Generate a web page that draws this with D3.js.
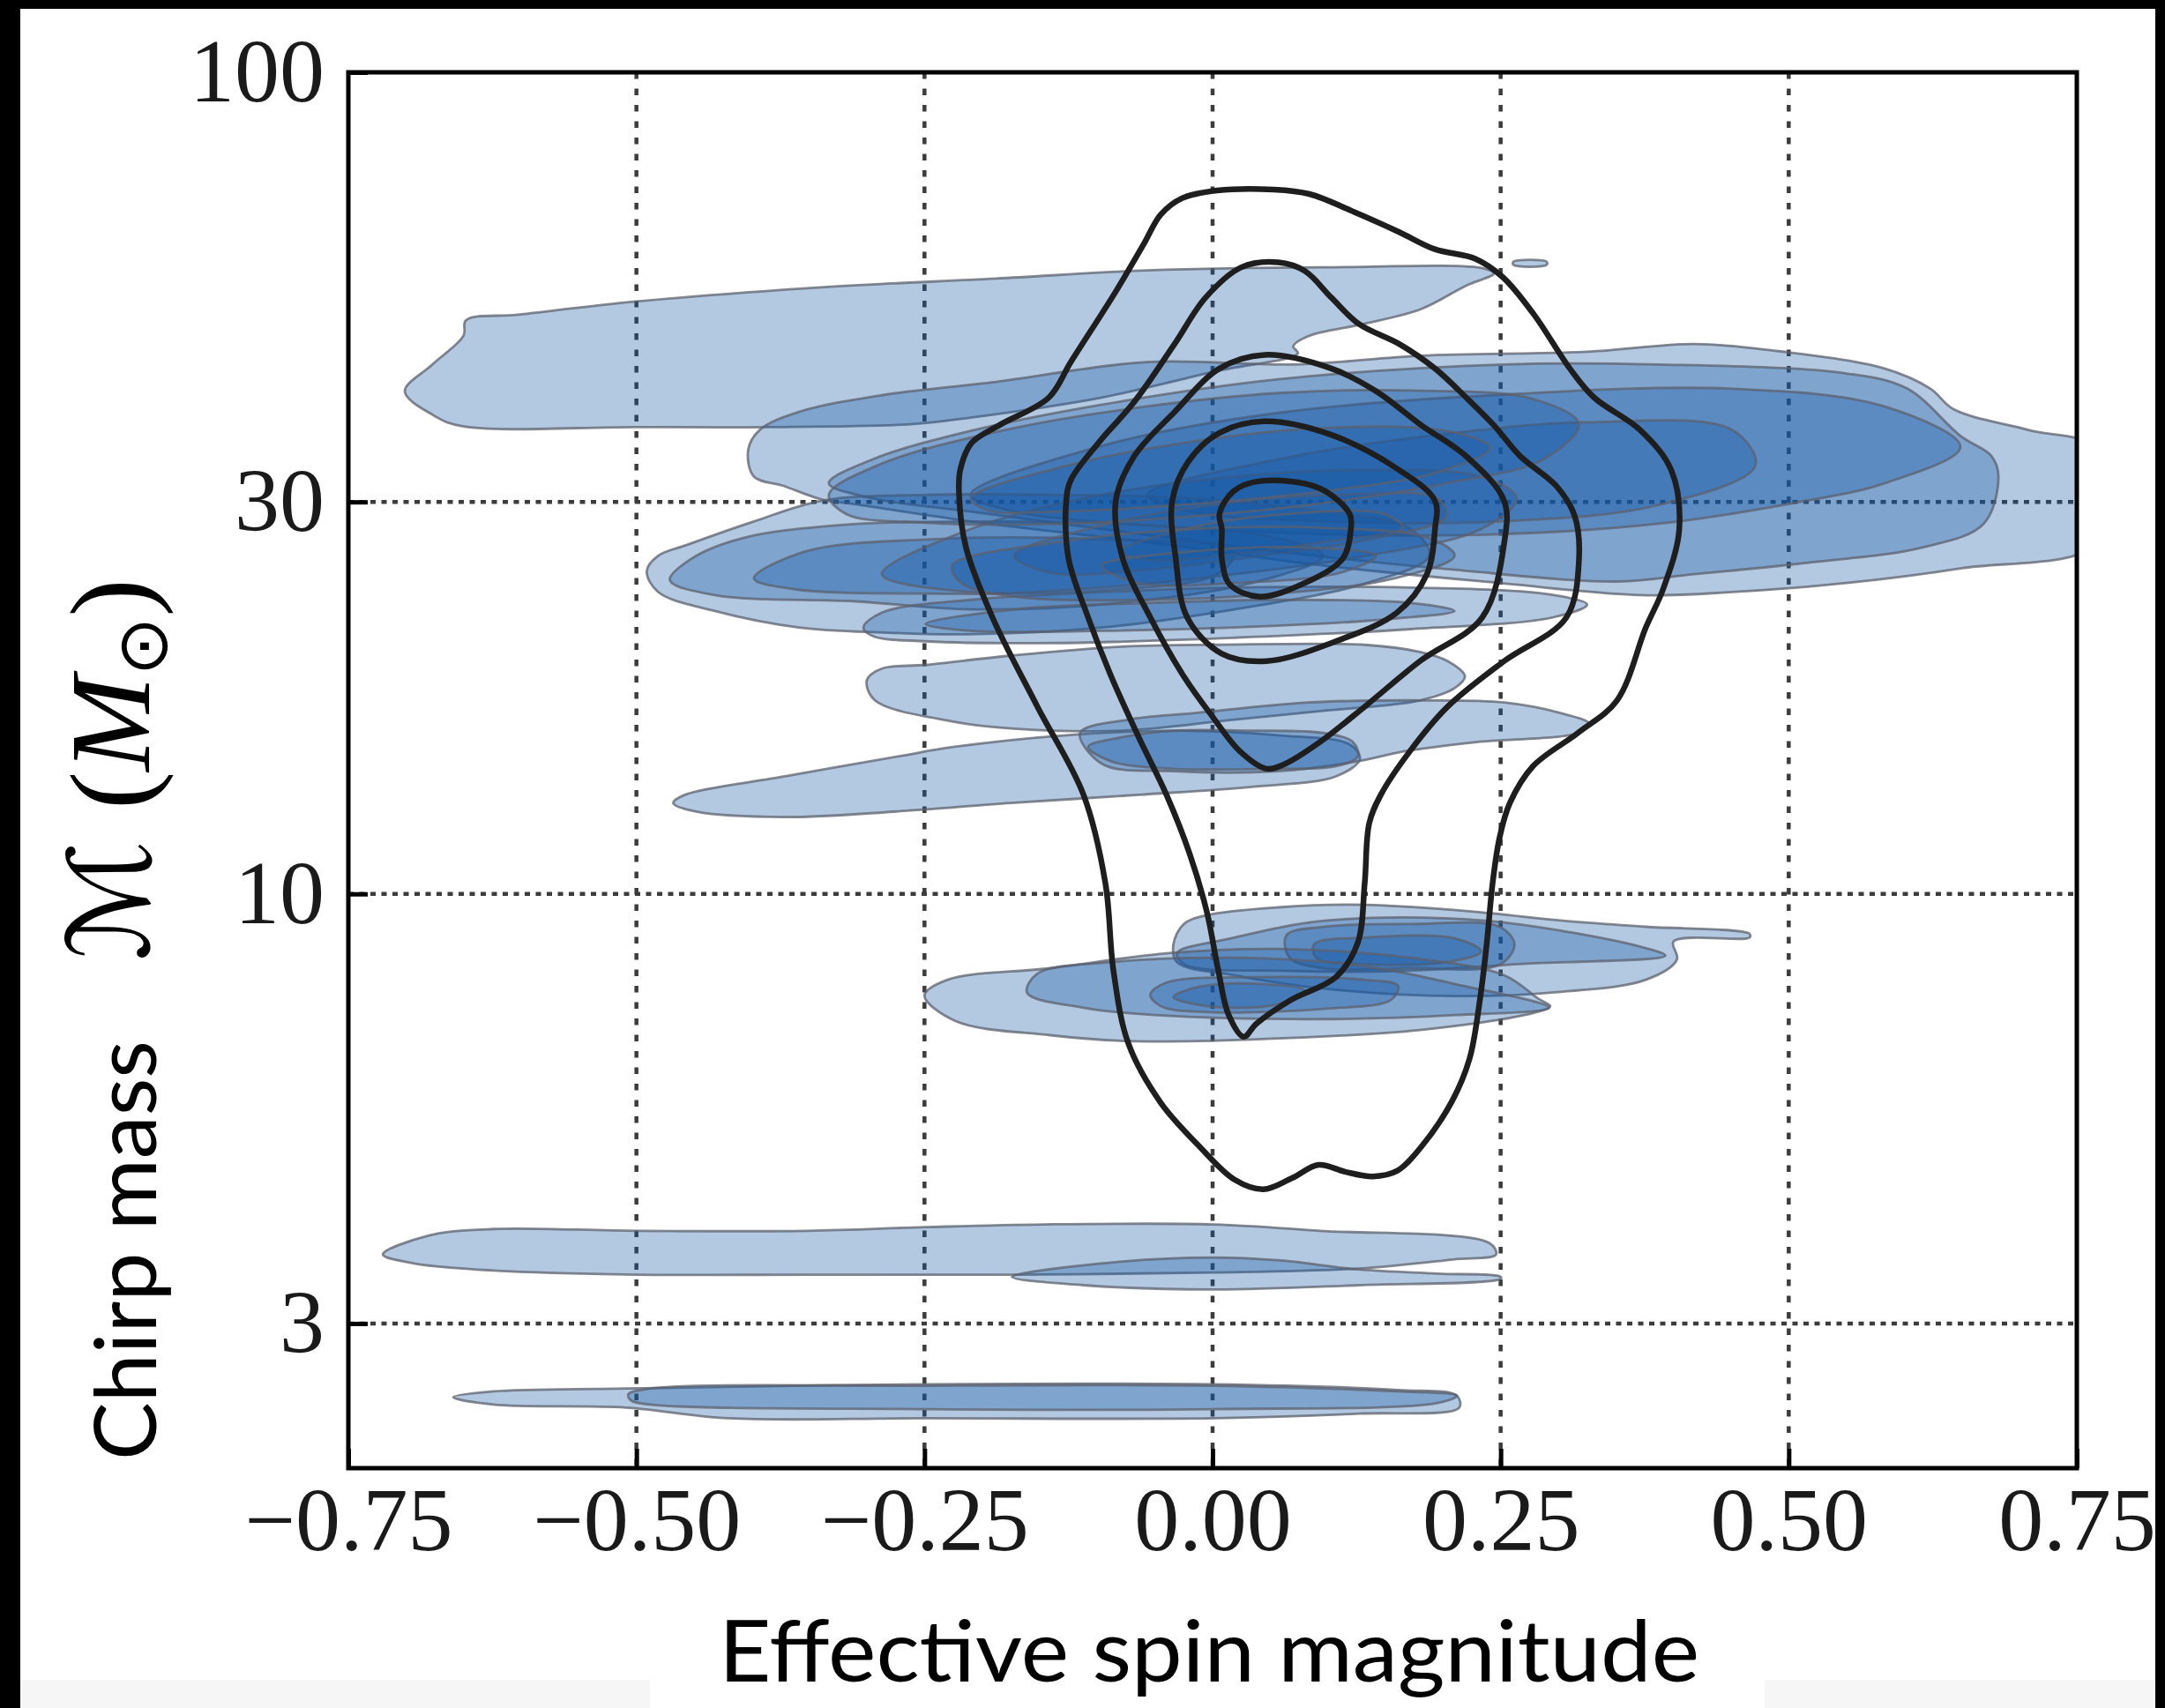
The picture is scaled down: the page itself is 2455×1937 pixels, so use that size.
<!DOCTYPE html>
<html>
<head>
<meta charset="utf-8">
<script src="https://cdn.jsdelivr.net/npm/d3@7"></script>
<style>
  html, body { margin: 0; padding: 0; background: #ffffff; }
  svg { display: block; }
</style>
</head>
<body>
<svg id="chart" width="2455" height="1937"></svg>
<script>
// ---- axes ----
const xDomain = [-0.75, 0.75];
const yDomain = [2, 100];
const xTicks = [-0.75, -0.5, -0.25, 0, 0.25, 0.5, 0.75];
const xTickLabels = ["\u22120.75", "\u22120.50", "\u22120.25", "0.00", "0.25", "0.50", "0.75"];
const yTicks = [3, 10, 30, 100];
const yTickLabels = ["3", "10", "30", "100"];
const xGrid = [-0.5, -0.25, 0, 0.25, 0.5];
const yGrid = [3, 10, 30];

// ---- per-event credible regions: [chi_eff, chirp mass], outermost level first ----
const evHeavyNeg = [
  [[-0.701,40.9],[-0.677,44.1],[-0.650,47.8],[-0.648,49.9],[-0.603,50.7],[-0.500,52.6],[-0.334,54.8],[-0.188,56.1],[-0.057,57.4],[0.096,57.9],[0.236,57.7],[0.244,56.9],[0.220,55.0],[0.181,51.5],[0.131,49.4],[0.084,47.8],[0.070,46.4],[0.074,45.5],[0.004,43.3],[-0.096,40.2],[-0.210,38.0],[-0.262,37.3],[-0.383,37.0],[-0.500,37.0],[-0.652,37.1],[-0.677,38.3]]
];
const evSliver = [
  [[0.261,58.8],[0.290,58.8],[0.290,58.3],[0.261,58.3]]
];
const evWide = [
  [[-0.403,34.7],[-0.393,36.7],[-0.359,38.6],[-0.285,40.5],[-0.188,42.0],[-0.057,44.4],[0.072,44.1],[0.181,45.2],[0.325,45.7],[0.418,46.7],[0.484,45.9],[0.583,43.6],[0.623,41.2],[0.643,38.9],[0.708,36.7],[0.769,34.7],[0.769,26.8],[0.649,24.9],[0.550,23.9],[0.451,23.3],[0.371,23.1],[0.249,23.9],[0.096,25.1],[-0.057,26.8],[-0.210,28.4],[-0.310,29.8],[-0.339,30.2],[-0.373,31.4],[-0.398,32.2]],
  [[-0.333,31.6],[-0.295,33.8],[-0.210,36.6],[-0.096,39.4],[0.057,42.3],[0.253,44.1],[0.385,44.1],[0.550,43.0],[0.603,41.2],[0.649,36.1],[0.676,34.1],[0.682,32.2],[0.669,28.2],[0.616,26.4],[0.517,25.3],[0.418,24.5],[0.351,24.0],[0.210,24.8],[0.057,26.1],[-0.096,27.8],[-0.210,29.2],[-0.295,30.3]],
  [[-0.210,30.6],[-0.096,35.1],[0.057,38.5],[0.249,40.5],[0.451,41.2],[0.583,39.2],[0.649,35.0],[0.583,31.6],[0.504,29.9],[0.385,28.2],[0.249,27.4],[0.096,27.4],[-0.057,28.1],[-0.172,29.2]],
  [[-0.057,30.6],[0.057,33.8],[0.210,36.4],[0.325,37.5],[0.451,36.7],[0.471,33.2],[0.385,29.7],[0.249,28.4],[0.096,28.4],[-0.019,29.2]]
];
const evLowerLobe = [
  [[-0.491,24.7],[-0.481,25.8],[-0.456,26.6],[-0.398,28.4],[-0.339,30.1],[-0.249,30.6],[-0.134,30.6],[-0.019,30.3],[0.096,29.2],[0.172,27.8],[0.188,25.8],[0.134,23.9],[0.019,22.2],[-0.096,21.1],[-0.213,20.7],[-0.285,20.8],[-0.359,21.1],[-0.432,22.1],[-0.481,23.3]],
  [[-0.471,24.1],[-0.452,25.6],[-0.408,27.1],[-0.325,28.1],[-0.210,28.4],[-0.057,28.1],[0.057,27.1],[0.096,25.8],[0.034,23.9],[-0.096,22.5],[-0.210,22.2],[-0.310,22.7],[-0.432,23.1]],
  [[-0.398,24.2],[-0.354,26.1],[-0.249,27.0],[-0.096,27.0],[0.019,26.1],[0.004,24.5],[-0.096,23.4],[-0.249,23.2],[-0.364,23.5]]
];
const evCore = [
  [[-0.287,24.5],[-0.210,27.8],[-0.096,30.6],[0.019,32.2],[0.134,32.8],[0.233,32.2],[0.264,30.3],[0.233,27.8],[0.134,25.8],[0.019,24.5],[-0.096,23.6],[-0.210,23.3]],
  [[-0.172,25.8],[-0.096,28.1],[0.004,29.8],[0.111,30.6],[0.195,30.3],[0.203,28.8],[0.142,27.1],[0.042,25.8],[-0.057,24.8],[-0.141,24.6]],
  [[-0.080,26.1],[-0.019,27.9],[0.065,29.0],[0.149,29.0],[0.165,27.9],[0.096,26.8],[0.019,25.9],[-0.057,25.5]]
];
const evUpper = [
  [[-0.333,30.6],[-0.287,33.4],[-0.172,36.9],[-0.057,39.2],[0.057,40.7],[0.172,41.0],[0.279,40.0],[0.318,37.3],[0.287,33.8],[0.203,31.6],[0.096,29.9],[-0.019,28.8],[-0.134,28.2],[-0.249,28.3],[-0.318,29.0]],
  [[-0.210,30.3],[-0.134,33.0],[-0.019,35.5],[0.096,36.9],[0.203,36.6],[0.241,34.9],[0.195,32.6],[0.096,30.9],[-0.019,29.8],[-0.134,29.2],[-0.195,29.3]]
];
const evBand21 = [
  [[-0.303,21.1],[-0.287,22.0],[-0.210,22.8],[-0.096,23.3],[0.019,23.6],[0.172,23.6],[0.287,23.2],[0.325,22.5],[0.295,21.7],[0.172,21.0],[0.019,20.5],[-0.134,20.2],[-0.249,20.3],[-0.295,20.6]],
  [[-0.249,21.3],[-0.172,22.2],[-0.057,22.6],[0.057,22.8],[0.172,22.6],[0.210,22.1],[0.134,21.5],[0.019,21.1],[-0.096,20.9],[-0.210,20.9]]
];
const evMid24 = [
  [[-0.226,25.1],[-0.134,26.8],[-0.019,27.8],[0.096,27.9],[0.188,27.1],[0.210,25.8],[0.157,24.2],[0.057,23.2],[-0.057,22.8],[-0.172,23.0],[-0.218,23.9]],
  [[-0.096,25.1],[-0.019,26.1],[0.080,26.4],[0.142,25.8],[0.111,24.6],[0.019,23.9],[-0.065,23.9]]
];
const evBand19 = [
  [[-0.300,18.2],[-0.287,18.8],[-0.249,19.0],[-0.175,19.5],[-0.078,20.0],[0.004,20.1],[0.132,20.1],[0.180,19.7],[0.204,19.2],[0.219,18.4],[0.210,17.8],[0.180,17.2],[0.096,16.7],[0.019,16.3],[-0.078,15.8],[-0.175,15.9],[-0.224,16.2],[-0.293,17.2]]
];
const evBand14 = [
  [[-0.468,12.9],[-0.458,13.2],[-0.371,13.9],[-0.273,14.7],[-0.224,15.1],[-0.127,15.6],[-0.027,15.8],[0.057,15.6],[0.119,15.2],[0.128,14.6],[0.107,13.9],[0.034,13.5],[-0.064,13.2],[-0.175,12.9],[-0.273,12.6],[-0.371,12.4],[-0.449,12.6]]
];
const evBand16 = [
  [[-0.115,15.7],[-0.073,16.3],[-0.015,16.6],[0.083,17.1],[0.180,17.2],[0.253,17.1],[0.302,16.6],[0.327,16.1],[0.317,15.7],[0.229,15.3],[0.165,14.9],[0.126,14.5],[0.057,14.1],[-0.034,14.1],[-0.096,14.4]],
  [[-0.108,15.1],[-0.080,15.5],[-0.034,15.8],[0.034,15.8],[0.096,15.7],[0.122,15.3],[0.126,14.7],[0.107,14.3],[0.050,14.2],[-0.034,14.2],[-0.088,14.5]]
];
const evLight9 = [
  [[-0.025,9.19],[-0.005,9.42],[0.057,9.63],[0.132,9.70],[0.229,9.51],[0.302,9.28],[0.376,9.12],[0.466,8.94],[0.466,8.85],[0.400,8.75],[0.403,8.32],[0.376,7.86],[0.302,7.60],[0.210,7.51],[0.096,7.67],[0.019,7.96],[-0.031,8.26],[-0.034,8.68]],
  [[-0.031,8.47],[0.016,8.83],[0.099,9.28],[0.235,9.28],[0.372,8.62],[0.393,8.41],[0.269,8.22],[0.167,8.06],[0.064,8.06],[-0.024,8.20]],
  [[0.064,8.90],[0.096,9.12],[0.172,9.19],[0.249,9.12],[0.262,8.68],[0.249,8.20],[0.172,8.12],[0.096,8.12],[0.067,8.36]],
  [[0.088,8.68],[0.134,8.85],[0.210,8.83],[0.233,8.51],[0.203,8.26],[0.126,8.22],[0.090,8.36]]
];
const evLight8 = [
  [[-0.250,7.52],[-0.230,7.86],[-0.141,8.12],[-0.038,8.47],[0.057,8.57],[0.172,8.36],[0.253,7.96],[0.283,7.45],[0.293,7.30],[0.278,7.16],[0.180,6.83],[0.034,6.65],[-0.073,6.62],[-0.141,6.73],[-0.223,7.00]],
  [[-0.161,7.58],[-0.152,8.00],[-0.088,8.26],[0.019,8.36],[0.134,8.16],[0.210,7.77],[0.292,7.27],[0.210,7.12],[0.096,7.04],[-0.050,7.12],[-0.112,7.27]],
  [[-0.054,7.54],[-0.040,7.80],[0.034,7.92],[0.132,7.86],[0.161,7.73],[0.155,7.43],[0.099,7.25],[-0.004,7.18],[-0.045,7.30]],
  [[-0.034,7.49],[-0.011,7.71],[0.042,7.77],[0.080,7.63],[0.057,7.34],[-0.004,7.30]]
];
const evBand35 = [
  [[-0.720,3.64],[-0.680,3.84],[-0.624,3.91],[-0.500,3.89],[-0.351,3.89],[-0.249,3.93],[-0.146,3.96],[0.001,3.96],[0.093,3.89],[0.240,3.76],[0.246,3.64],[0.209,3.59],[0.127,3.50],[0.001,3.46],[-0.174,3.44],[-0.351,3.44],[-0.500,3.44],[-0.624,3.48],[-0.693,3.55]]
];
const evBand33 = [
  [[-0.174,3.42],[-0.078,3.57],[0.001,3.61],[0.059,3.58],[0.127,3.49],[0.195,3.45],[0.250,3.42],[0.250,3.40],[0.127,3.34],[0.001,3.30],[-0.112,3.34]]
];
const evBand24 = [
  [[-0.659,2.44],[-0.624,2.48],[-0.509,2.50],[-0.249,2.53],[0.001,2.53],[0.161,2.49],[0.212,2.45],[0.214,2.37],[0.127,2.33],[0.001,2.30],[-0.249,2.30],[-0.420,2.30],[-0.509,2.37],[-0.624,2.39]],
  [[-0.507,2.46],[-0.488,2.50],[-0.249,2.52],[0.001,2.52],[0.161,2.48],[0.212,2.45],[0.195,2.40],[0.001,2.36],[-0.249,2.36],[-0.488,2.39],[-0.505,2.42]]
];
const events = [evHeavyNeg, evSliver, evWide, evLowerLobe, evCore, evUpper, evBand21, evMid24,
                evBand19, evBand14, evBand16, evLight9, evLight8, evBand35, evBand33, evBand24];

// ---- population density contours (outermost first) ----
const popLevel1 = [[0.053,72.0],[0.084,71.1],[0.123,67.6],[0.162,63.9],[0.193,60.9],[0.228,59.3],[0.252,56.3],[0.279,50.7],[0.310,43.6],[0.331,40.2],[0.371,36.7],[0.398,32.8],[0.405,27.8],[0.391,23.5],[0.376,21.1],[0.351,17.2],[0.317,15.7],[0.278,14.3],[0.258,12.9],[0.249,11.7],[0.243,10.3],[0.238,8.72],[0.232,7.43],[0.223,6.30],[0.208,5.60],[0.181,4.92],[0.160,4.60],[0.139,4.53],[0.115,4.59],[0.092,4.68],[0.069,4.51],[0.044,4.37],[0.019,4.49],[-0.011,4.92],[-0.045,5.57],[-0.073,6.57],[-0.086,8.06],[-0.093,10.3],[-0.112,13.2],[-0.152,16.9],[-0.191,21.7],[-0.214,26.4],[-0.220,30.6],[-0.219,32.8],[-0.209,35.4],[-0.185,37.2],[-0.142,40.2],[-0.123,44.4],[-0.084,54.1],[-0.060,61.7],[-0.045,67.1],[-0.027,70.2],[0.004,71.8]];
const popLevel2 = [[0.057,58.7],[0.080,57.3],[0.103,53.2],[0.127,49.4],[0.162,46.7],[0.193,43.6],[0.220,40.2],[0.244,37.2],[0.267,34.1],[0.298,31.4],[0.314,28.9],[0.318,25.6],[0.307,21.7],[0.253,19.2],[0.204,16.9],[0.171,14.9],[0.146,13.2],[0.136,12.2],[0.132,10.3],[0.126,8.72],[0.107,7.92],[0.068,7.43],[0.038,6.95],[0.027,6.70],[0.014,7.12],[0.005,8.06],[-0.005,9.51],[-0.020,11.2],[-0.040,13.2],[-0.064,15.5],[-0.088,18.4],[-0.108,21.7],[-0.125,25.6],[-0.127,30.1],[-0.123,31.9],[-0.099,35.4],[-0.068,39.7],[-0.033,46.7],[-0.006,53.2],[0.025,57.9]];
const popLevel3 = [[0.045,45.3],[0.103,43.6],[0.142,40.9],[0.181,37.2],[0.220,34.1],[0.253,30.1],[0.253,26.7],[0.234,21.7],[0.180,19.2],[0.132,16.9],[0.093,15.3],[0.063,14.4],[0.047,14.2],[0.024,14.9],[-0.001,16.5],[-0.025,18.4],[-0.054,21.7],[-0.078,25.6],[-0.084,30.1],[-0.068,34.1],[-0.033,38.6],[0.006,43.6]];
const popLevel4 = [[0.045,37.6],[0.103,36.2],[0.162,32.8],[0.193,30.1],[0.193,27.8],[0.186,24.5],[0.160,22.0],[0.107,20.3],[0.047,19.2],[0.008,19.6],[-0.022,21.7],[-0.032,25.6],[-0.035,30.1],[-0.021,33.6],[0.006,36.4]];
const popLevel5 = [[0.041,31.8],[0.092,31.2],[0.119,29.0],[0.120,27.8],[0.113,25.6],[0.080,23.9],[0.041,23.0],[0.015,23.8],[0.008,25.6],[0.008,27.8],[0.006,29.0],[0.018,30.9]];
const popLevels = [popLevel1, popLevel2, popLevel3, popLevel4, popLevel5];

// ---- drawing ----
const W = 2455, H = 1937;
const plot = { left: 395, right: 2355, top: 82, bottom: 1665 };

const svg = d3.select("#chart");
svg.append("rect").attr("width", W).attr("height", H).attr("fill", "#ffffff");

const x = d3.scaleLinear().domain(xDomain).range([plot.left, plot.right]);
const y = d3.scaleLog().domain(yDomain).range([plot.bottom, plot.top]);

svg.append("defs").append("clipPath").attr("id", "plotClip")
  .append("rect")
  .attr("x", plot.left).attr("y", plot.top)
  .attr("width", plot.right - plot.left).attr("height", plot.bottom - plot.top);

// dotted grid
const grid = svg.append("g").attr("stroke", "#3c3c3c").attr("stroke-width", 4.5);
grid.selectAll("line.v").data(xGrid).join("line").attr("class", "v")
  .attr("x1", d => x(d)).attr("x2", d => x(d))
  .attr("y1", plot.top).attr("y2", plot.bottom)
  .attr("stroke-dasharray", "7.5 11");
grid.selectAll("line.h").data(yGrid).join("line").attr("class", "h")
  .attr("x1", plot.left).attr("x2", plot.right)
  .attr("y1", d => y(d)).attr("y2", d => y(d))
  .attr("stroke-dasharray", "6 6.5");

const area = d3.line()
  .x(d => x(d[0])).y(d => y(d[1]))
  .curve(d3.curveCatmullRomClosed.alpha(0.5));

const fills = svg.append("g").attr("clip-path", "url(#plotClip)");
events.forEach(levels => {
  fills.append("g").selectAll("path").data(levels).join("path")
    .attr("d", area)
    .attr("fill", "rgb(20,86,166)")
    .attr("fill-opacity", 0.32)
    .attr("stroke", "rgb(92,96,108)")
    .attr("stroke-opacity", 0.75)
    .attr("stroke-width", 2.8);
});

svg.append("g").attr("clip-path", "url(#plotClip)")
  .selectAll("path").data(popLevels).join("path")
  .attr("d", area)
  .attr("fill", "none")
  .attr("stroke", "#1e1e1e")
  .attr("stroke-width", 6.5)
  .attr("stroke-linejoin", "round");

// axes with inward ticks
const tickFont = "'Liberation Serif', 'Times New Roman', serif";
const xAxis = d3.axisBottom(x).tickValues(xTicks)
  .tickFormat((d, i) => xTickLabels[i]).tickSizeInner(-22).tickSizeOuter(0).tickPadding(21);
const gx = svg.append("g").attr("transform", `translate(0,${plot.bottom})`).call(xAxis);
gx.select(".domain").remove();
gx.selectAll(".tick line").attr("stroke", "#000").attr("stroke-width", 5);
gx.selectAll(".tick text").attr("font-family", tickFont).attr("font-size", 102).attr("fill", "#1a1a1a");

const yAxis = d3.axisLeft(y).tickValues(yTicks)
  .tickFormat((d, i) => yTickLabels[i]).tickSizeInner(-22).tickSizeOuter(0).tickPadding(27);
const gy = svg.append("g").attr("transform", `translate(${plot.left},0)`).call(yAxis);
gy.select(".domain").remove();
gy.selectAll(".tick line").attr("stroke", "#000").attr("stroke-width", 5);
gy.selectAll(".tick text").attr("font-family", tickFont).attr("font-size", 102).attr("fill", "#1a1a1a");

// frame
svg.append("rect")
  .attr("x", plot.left).attr("y", plot.top)
  .attr("width", plot.right - plot.left).attr("height", plot.bottom - plot.top)
  .attr("fill", "none").attr("stroke", "#000").attr("stroke-width", 5);

// axis titles
const sans = "Lato, 'Open Sans', 'Noto Sans', sans-serif";
svg.append("text")
  .attr("x", 815).attr("y", 1907)
  .attr("font-family", sans).attr("font-size", 97).attr("fill", "#000")
  .attr("textLength", 1112).attr("lengthAdjust", "spacingAndGlyphs")
  .text("Effective spin magnitude");

svg.append("text")
  .attr("transform", "translate(177,1656) rotate(-90)")
  .attr("font-family", sans).attr("font-size", 97).attr("fill", "#000")
  .attr("textLength", 476).attr("lengthAdjust", "spacingAndGlyphs")
  .text("Chirp mass");

// math-style mass label, reading bottom to top
const mathLabel = svg.append("g").attr("transform", "translate(169,874) rotate(-90)");
mathLabel.append("text")
  .attr("x", -147).attr("y", 0).attr("text-anchor", "middle")
  .attr("font-family", "'DejaVu Serif', 'DejaVu Sans', serif").attr("font-size", 128)
  .attr("fill", "#000").text("\u2133");
const par = mathLabel.append("text")
  .attr("x", -44).attr("y", 0)
  .attr("font-family", tickFont).attr("font-size", 130).attr("fill", "#000");
par.append("tspan").text("(");
par.append("tspan").attr("font-style", "italic").text("M");
par.append("tspan").attr("font-family", "'DejaVu Sans', sans-serif").attr("font-size", 80).attr("dy", 20).text("\u2299");
par.append("tspan").attr("dy", -20).text(")");

// page edges
svg.append("rect").attr("x", 0).attr("y", 0).attr("width", W).attr("height", 10).attr("fill", "#000");
svg.append("rect").attr("x", 0).attr("y", 0).attr("width", 23).attr("height", H).attr("fill", "#000");
svg.append("rect").attr("x", 2444).attr("y", 0).attr("width", 11).attr("height", H).attr("fill", "#000");
svg.append("rect").attr("x", 23).attr("y", 1905).attr("width", 714).attr("height", 32).attr("fill", "#f6f6f6");
svg.append("rect").attr("x", 2001).attr("y", 1905).attr("width", 443).attr("height", 32).attr("fill", "#f6f6f6");
</script>
</body>
</html>
